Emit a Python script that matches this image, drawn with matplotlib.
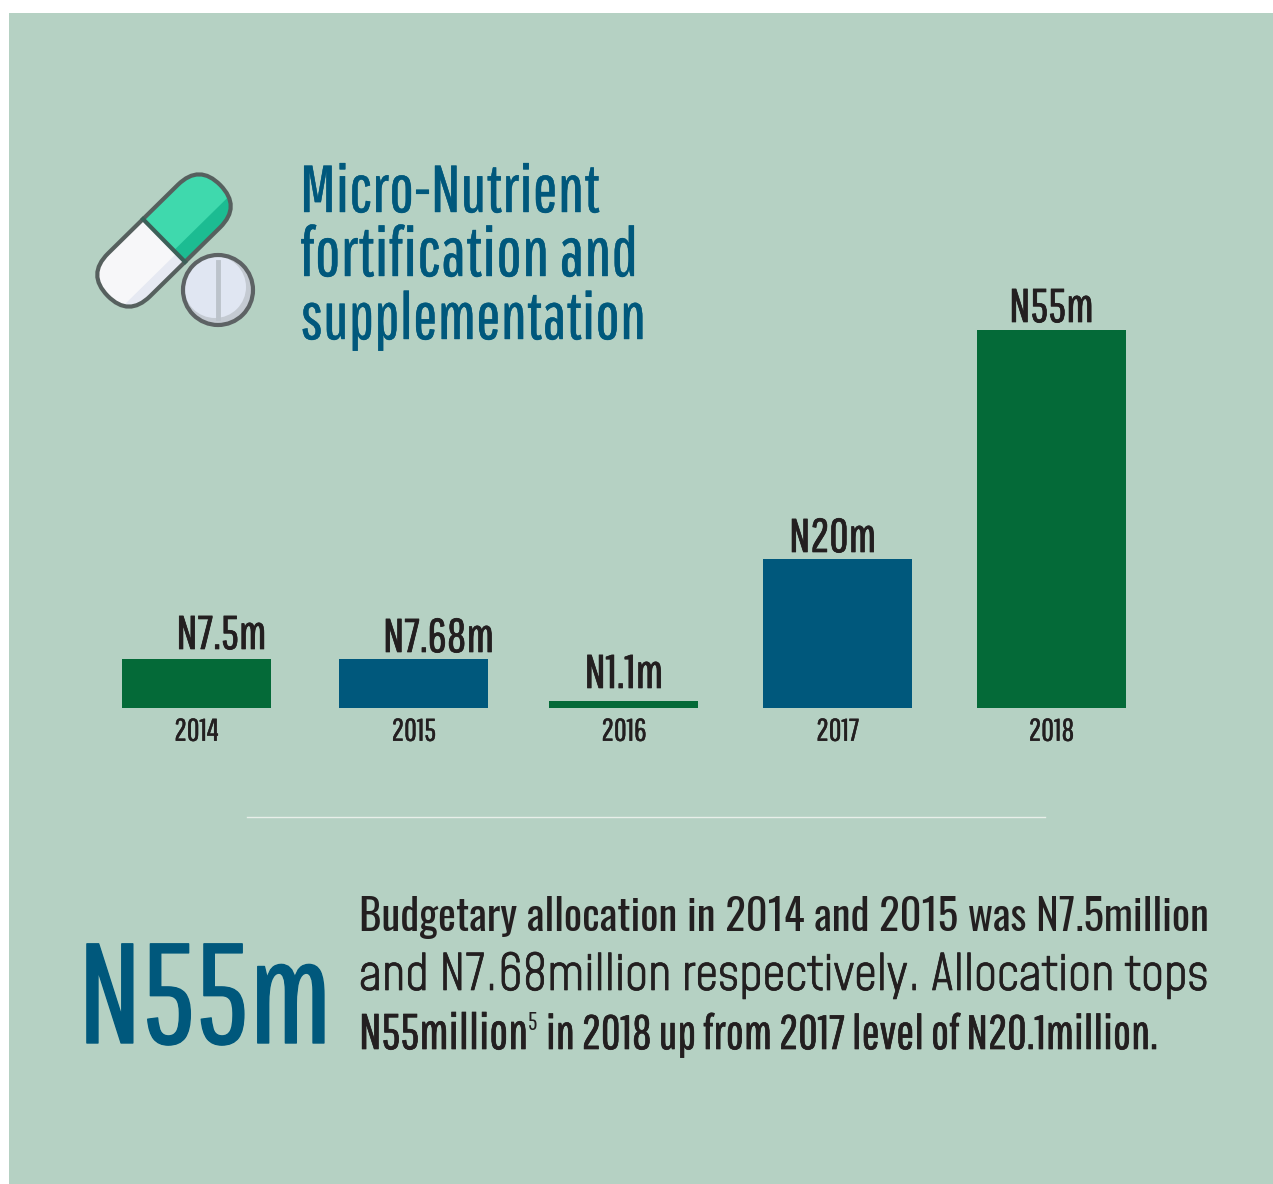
import numpy as np
import matplotlib
matplotlib.use("Agg")
import matplotlib.pyplot as plt
import matplotlib.patheffects as pe
from matplotlib.patches import Circle, Rectangle, FancyBboxPatch
from matplotlib.transforms import Affine2D

W, H = 1273, 1184

years = ["2014", "2015", "2016", "2017", "2018"]
# bar heights (the picture is not strictly to scale)
heights = [7.13, 7.13, 1.02, 21.68, 55.0]
labels = ["N7.5m", "N7.68m", "N1.1m", "N20m", "N55m"]
title_lines = ["Micro-Nutrient", "fortification and", "supplementation"]

GREEN = "#046a38"
BLUE = "#00587c"
BG = "#b5d1c3"
DARK = "#231f20"
NARROW = ["Pathway Gothic One", "DejaVu Sans"]
OSWALD = ["Oswald", "DejaVu Sans"]
TRACKED = ["Mohave", "DejaVu Sans"]

fig = plt.figure(figsize=(W / 100, H / 100), dpi=100, facecolor="white")

# page in pixel coordinates
ax = fig.add_axes([0, 0, 1, 1])
ax.set_xlim(0, W)
ax.set_ylim(H, 0)
ax.axis("off")
ax.add_patch(Rectangle((9, 13), W - 9, H - 13, fc=BG, ec="none"))


def stroke(color, lw):
    return [pe.withStroke(linewidth=lw, foreground=color)]


###############################################################################
# bars
###############################################################################
BASE = 708
TOP = 300
PX_PER_M = 378 / 55
STEP = 213.75
bar_ax = fig.add_axes([0, (H - BASE) / H, 1, (BASE - TOP) / H])
bar_ax.patch.set_alpha(0)
bar_ax.set_xlim(-196.5 / STEP, (W - 196.5) / STEP)
bar_ax.set_ylim(0, (BASE - TOP) / PX_PER_M)
for s in bar_ax.spines.values():
    s.set_visible(False)
bar_ax.set_yticks([])

x = np.arange(len(years)) + np.array([0, 0.0164, 0, 0, 0])
colors = [GREEN, BLUE, GREEN, BLUE, GREEN]
bar_ax.bar(x, heights, width=149 / STEP, color=colors)
bar_ax.set_xticks(x)
bar_ax.set_xticklabels(years, family=NARROW, fontsize=22.5, color=DARK)
bar_ax.tick_params(axis="x", length=0, pad=7)
for t in bar_ax.get_xticklabels():
    t.set_path_effects(stroke(DARK, 0.3))

label_dx = [25, 25, 0, -5, 0]
label_dy = [10, 7, 13, 7, 8]
for i in range(len(years)):
    bar_ax.annotate(labels[i], (x[i], heights[i]), xytext=(label_dx[i], label_dy[i]),
                    textcoords="offset pixels", ha="center", va="baseline",
                    family=NARROW, fontsize=34, color=DARK,
                    path_effects=stroke(DARK, 0.5))

###############################################################################
# title, divider, key figure, paragraph
###############################################################################
for s, y, size in zip(title_lines, [212, 276, 339], [47.6, 49.2, 47]):
    ax.text(300, y, s, fontsize=size, family=NARROW, color=BLUE, va="baseline",
            path_effects=stroke(BLUE, 0.3))

ax.plot([247, 1045], [816.5, 816.5], color="#e8efe9", lw=1)

ax.text(78, 1043, "N55m", fontsize=102, family=NARROW, color=BLUE, va="baseline",
        path_effects=stroke(BLUE, 1))

ax.text(359, 931, "Budgetary allocation in 2014 and 2015 was N7.5million", fontsize=30.8,
        family=OSWALD, color=DARK, va="baseline")
ax.text(359, 990, "and N7.68million respectively. Allocation tops", fontsize=35.8,
        family=TRACKED, color=DARK, va="baseline", path_effects=stroke(DARK, 0.5))
ax.text(359, 1049, "N55million", fontsize=36, family=NARROW, color=DARK, va="baseline",
        path_effects=stroke(DARK, 0.5))
ax.text(528, 1030, "5", fontsize=18, family=NARROW, color=DARK, va="baseline")
ax.text(546, 1049, "in 2018 up from 2017 level of N20.1million.", fontsize=34.5,
        family=NARROW, color=DARK, va="baseline", path_effects=stroke(DARK, 0.5))

###############################################################################
# pill icon
###############################################################################
cx, cy = 164, 240.5
half = 79
r = 30
rot = Affine2D().rotate_deg_around(cx, cy, -44.5) + ax.transData
box = dict(boxstyle=f"round,pad=0,rounding_size={r}", transform=rot)
pill = FancyBboxPatch((cx - half, cy - r), 2 * half, 2 * r, fc="#f7f7f9", ec="none", **box)
ax.add_patch(pill)
green = Rectangle((cx, cy - r), half, 2 * r, fc="#3fd9ad", ec="none", transform=rot)
shade = Rectangle((cx, cy + 14), half, r, fc="#1cbc92", ec="none", transform=rot)
grey = Rectangle((cx - half, cy + 18), half, r, fc="#e6e9f2", ec="none", transform=rot)
for p in [green, shade, grey]:
    ax.add_patch(p)
    p.set_clip_path(pill)
ax.plot([cx, cx], [cy - r, cy + r], color="#3d5f58", lw=3, transform=rot)
ax.add_patch(FancyBboxPatch((cx - half, cy - r), 2 * half, 2 * r, fc="none", ec="#56605e", lw=3, **box))

ax.add_patch(Circle((218, 290), 35, fc="#c4cad2", ec="none"))
ax.add_patch(Circle((215, 287), 31, fc="#e0e6f2", ec="none"))
ax.plot([218, 218], [262, 318], color="#bcc3cb", lw=3.5)
ax.add_patch(Circle((218, 290), 35, fc="none", ec="#5d6264", lw=3))

fig.savefig("out.png", dpi=100)
